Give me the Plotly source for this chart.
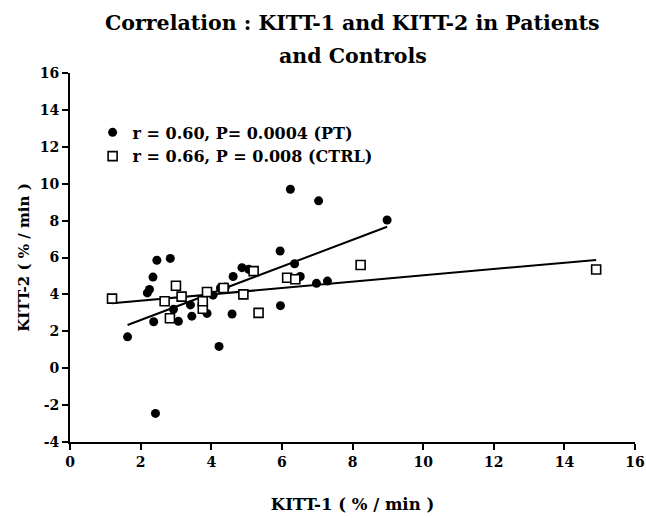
import numpy as np
import plotly.graph_objects as go

# Patients (PT) - filled circles
pt_x = [1.63, 2.19, 2.25, 2.35, 2.46, 2.84, 2.37, 3.07, 2.42, 3.45, 3.41, 2.93,
        3.88, 4.05, 4.26, 4.40, 4.22, 4.59, 4.62, 4.87, 5.06, 5.95, 5.96, 6.24,
        6.36, 6.52, 6.98, 7.29, 7.04, 8.98]
pt_y = [1.70, 4.08, 4.27, 4.94, 5.85, 5.95, 2.52, 2.54, -2.45, 2.82, 3.43, 3.19,
        2.97, 3.96, 4.35, 4.40, 1.18, 2.94, 4.97, 5.45, 5.36, 6.35, 3.39, 9.70,
        5.66, 4.97, 4.60, 4.72, 9.07, 8.03]

# Controls (CTRL) - open squares
ctrl_x = [1.19, 2.68, 2.83, 3.00, 3.16, 3.76, 3.76, 3.88, 4.35, 4.91, 5.20, 5.34,
          6.15, 6.38, 8.23, 14.90]
ctrl_y = [3.77, 3.63, 2.71, 4.47, 3.88, 3.22, 3.63, 4.13, 4.35, 4.00, 5.26, 3.00,
          4.90, 4.82, 5.59, 5.35]

pt_label = "r = 0.60, P= 0.0004 (PT)"
ctrl_label = "r = 0.66, P = 0.008 (CTRL)"
title_lines = ["Correlation : KITT-1 and KITT-2 in Patients", "and Controls"]
x_title = "KITT-1 ( % / min )"
y_title = "KITT-2 ( % / min )"
x_ticks = [0, 2, 4, 6, 8, 10, 12, 14, 16]
y_ticks = [-4, -2, 0, 2, 4, 6, 8, 10, 12, 14, 16]

FONT = "DejaVu Serif"


def fit_line(xs, ys):
    xs = np.asarray(xs, float)
    ys = np.asarray(ys, float)
    m, b = np.polyfit(xs, ys, 1)
    lx = np.array([xs.min(), xs.max()])
    return lx, m * lx + b


fig = go.Figure()

for xs, ys in [(pt_x, pt_y), (ctrl_x, ctrl_y)]:
    lx, ly = fit_line(xs, ys)
    fig.add_trace(go.Scatter(x=lx, y=ly, mode="lines", showlegend=False,
                             line=dict(color="black", width=2), hoverinfo="skip"))

fig.add_trace(go.Scatter(x=pt_x, y=pt_y, mode="markers", name=pt_label,
                         marker=dict(symbol="circle", size=9, color="black",
                                     line=dict(width=0))))
fig.add_trace(go.Scatter(x=ctrl_x, y=ctrl_y, mode="markers", name=ctrl_label,
                         marker=dict(symbol="square", size=9, color="white",
                                     line=dict(color="black", width=1.6))))

axis_common = dict(showline=True, linecolor="black", linewidth=2, ticks="outside",
                   ticklen=6, tickwidth=2, tickcolor="black", showgrid=False,
                   zeroline=False, mirror=False, automargin=False,
                   tickfont=dict(family=FONT, size=14, color="black", weight="bold"))

fig.update_xaxes(range=[0, 16], tickvals=x_ticks, ticktext=[str(v) for v in x_ticks],
                 title=dict(text="<b>" + x_title + "</b>", standoff=30,
                            font=dict(family=FONT, size=16.5, color="black")),
                 **axis_common)
fig.update_yaxes(range=[-4, 16], tickvals=y_ticks, ticktext=[str(v) for v in y_ticks],
                 title=dict(text="<b>" + y_title + "</b>", standoff=6,
                            font=dict(family=FONT, size=15, color="black")),
                 **axis_common)

fig.add_annotation(text="<b>" + title_lines[0] + "</b>", xref="paper", yref="paper",
                   x=0.5, y=1, yshift=50, showarrow=False, xanchor="center", yanchor="middle",
                   font=dict(family=FONT, size=20.5, color="black"))
fig.add_annotation(text="<b>" + title_lines[1] + "</b>", xref="paper", yref="paper",
                   x=0.5, y=1, yshift=17, showarrow=False, xanchor="center", yanchor="middle",
                   font=dict(family=FONT, size=20.5, color="black"))

fig.update_layout(
    width=646, height=518,
    margin=dict(l=70, r=11, t=73, b=76),
    paper_bgcolor="white", plot_bgcolor="white",
    showlegend=True,
    legend=dict(x=0.04, y=0.885, xanchor="left", yanchor="top",
                bgcolor="rgba(0,0,0,0)", tracegroupgap=0, itemwidth=30,
                font=dict(family=FONT, size=16, color="black", weight="bold")),
)

fig.write_html("out.html")
